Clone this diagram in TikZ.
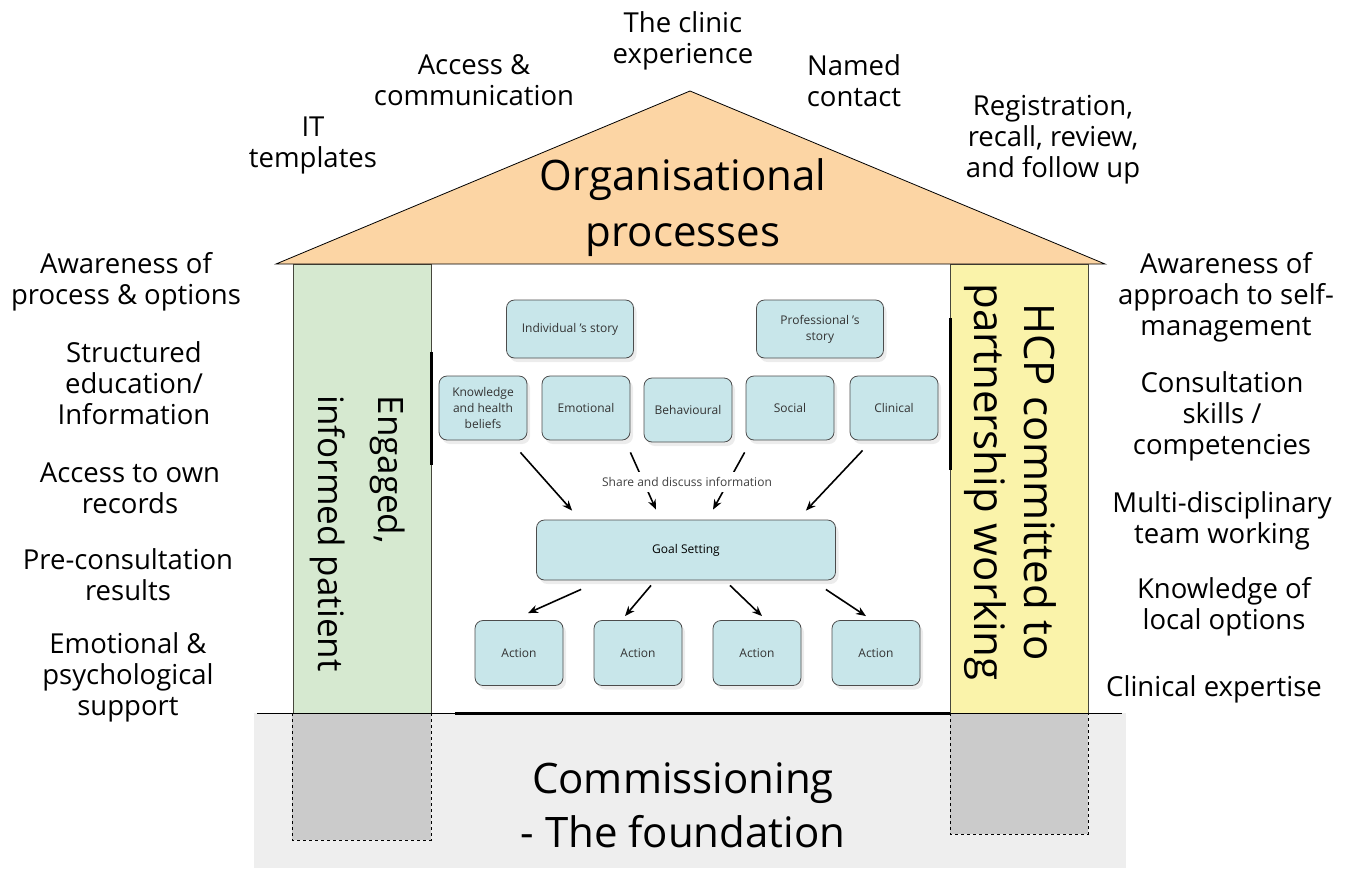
\documentclass[tikz,border=0pt]{standalone}
\usepackage{fontspec}
\setmainfont{Open Sans}
\usetikzlibrary{arrows.meta,shadows}
\definecolor{roof}{RGB}{252,213,164}
\definecolor{pgreen}{RGB}{214,233,208}
\definecolor{pyellow}{RGB}{250,243,170}
\definecolor{boxblue}{RGB}{200,230,234}
\definecolor{ground}{RGB}{238,238,238}
\definecolor{footing}{RGB}{203,203,203}
\definecolor{edgegray}{RGB}{70,70,60}
\tikzset{
  card/.style={draw=black!70,fill=boxblue,rounded corners=8pt,thick,align=center,
    text=black!80,font=\fontsize{12}{16}\selectfont,
    drop shadow={shadow xshift=3pt,shadow yshift=-4pt,opacity=0.15}},
  side/.style={align=center,font=\fontsize{27.5}{31}\selectfont},
  arr/.style={line width=1.6pt,-{Stealth[length=10pt,width=8pt]}}
}
\begin{document}
\begin{tikzpicture}[x=1pt,y=-1pt]
  \useasboundingbox (0,0) rectangle (1351,868);
  % foundation and frame
  \fill[ground] (254,713) rectangle (1126,868);
  \draw[dashed,thick,fill=footing] (292,713) rectangle (431,840);
  \draw[dashed,thick,fill=footing] (950,713) rectangle (1088,834);
  \draw[edgegray,thick,fill=pgreen] (293,264) rectangle (431,713);
  \draw[edgegray,thick,fill=pyellow] (950,264) rectangle (1088,713);
  \draw[thick,fill=roof] (276,264) -- (690,91) -- (1105,264) -- cycle;
  \draw[thick] (257,713) -- (1122,713);
  \draw[line width=3pt] (455,713) -- (950,713);
  \draw[line width=3pt] (431,352) -- (431,465);
  \draw[line width=3pt] (950,318) -- (950,470);

  \begin{scope}[every node/.style={card}]
    \node[minimum width=127pt,minimum height=58pt] at (570,329) (indiv) {Individual 's story};
    \node[minimum width=127pt,minimum height=58pt] at (820,329) (prof) {Professional 's\\story};
    \node[minimum width=88pt,minimum height=64pt] at (483,408) (know) {Knowledge\\and health\\beliefs};
    \node[minimum width=88pt,minimum height=64pt] at (586,408) (emot) {Emotional};
    \node[minimum width=88pt,minimum height=64pt] at (688,410) (behav) {Behavioural};
    \node[minimum width=88pt,minimum height=64pt] at (790,408) (social) {Social};
    \node[minimum width=88pt,minimum height=64pt] at (894,408) (clin) {Clinical};
    \node[minimum width=299pt,minimum height=60pt,text=black] at (686,550) (goal) {Goal Setting};
    \node[minimum width=88pt,minimum height=65pt] at (519,653) (act1) {Action};
    \node[minimum width=88pt,minimum height=65pt] at (638,653) (act2) {Action};
    \node[minimum width=88pt,minimum height=65pt] at (757,653) (act3) {Action};
    \node[minimum width=88pt,minimum height=65pt] at (876,653) (act4) {Action};
  \end{scope}

  \begin{scope}[every path/.style={arr}]
    \draw ([shift={(-7,12)}]know.south east) -- ([shift={(36,-9)}]goal.north west);
    \draw ([shift={(0,12)}]emot.south east) -- ([shift={(-30,-10)}]goal.north);
    \draw ([shift={(-1,12)}]social.south west) -- ([shift={(27,-10)}]goal.north);
    \draw ([shift={(13,10)}]clin.south west) -- ([shift={(-30,-9)}]goal.north east);
    \draw ([shift={(45,9)}]goal.south west) -- ([shift={(9,-7)}]act1.north);
    \draw ([shift={(-35,5)}]goal.south) -- ([shift={(-13,-4)}]act2.north);
    \draw ([shift={(44,5)}]goal.south) -- ([shift={(5,-4)}]act3.north);
    \draw ([shift={(-10,9)}]goal.south east) -- ([shift={(-10,-4)}]act4.north);
  \end{scope}
  \node[fill=white,inner xsep=1pt,inner ysep=5pt,text=black!75,font=\fontsize{12}{14}\selectfont] at (687,482) (share) {Share and discuss information};

  % roof labels
  \begin{scope}[every node/.style={side}]
    \node at (683,41) (clinic) {The clinic\\experience};
    \node at (474,80) (access) {Access \&\\communication};
    \node at (854,81) (named) {Named\\contact};
    \node at (313,145) (it) {IT\\templates};
    \node at (1053,140) (reg) {Registration,\\recall, review,\\and follow up};
  \end{scope}
  \node[align=center,font=\fontsize{42}{56}\selectfont] at (683,208) (org) {Organisational\\processes};

  % patient side
  \begin{scope}[every node/.style={side}]
    \node at (126,282) (aware) {Awareness of\\process \& options};
    \node at (134,383) (edu) {Structured\\education/\\Information};
    \node at (130,488) (rec) {Access to own\\records};
    \node at (128,575) (pre) {Pre-consultation\\results};
    \node at (128,677) (psy) {Emotional \&\\psychological\\support};
  \end{scope}
  \node[rotate=-90,align=left,anchor=west,font=\fontsize{35}{60}\selectfont] at (358,392) (pat) {Engaged,\\informed patient};

  % professional side
  \begin{scope}[every node/.style={side}]
    \node at (1226,297) (selfm) {Awareness of\\approach to self-\\management};
    \node at (1222,416) (cons) {Consultation\\skills /\\competencies};
    \node at (1222,521) (mdt) {Multi-disciplinary\\team working};
    \node at (1224,607) (local) {Knowledge of\\local options};
    \node at (1214,689) (exp) {Clinical expertise};
  \end{scope}
  \node[rotate=-90,align=center,font=\fontsize{42}{50}\selectfont] at (1010,482) (hcp) {HCP committed to\\partnership working};

  \node[align=center,font=\fontsize{42}{54}\selectfont] at (683,805) (comm) {Commissioning\\- The foundation};
\end{tikzpicture}
\end{document}
